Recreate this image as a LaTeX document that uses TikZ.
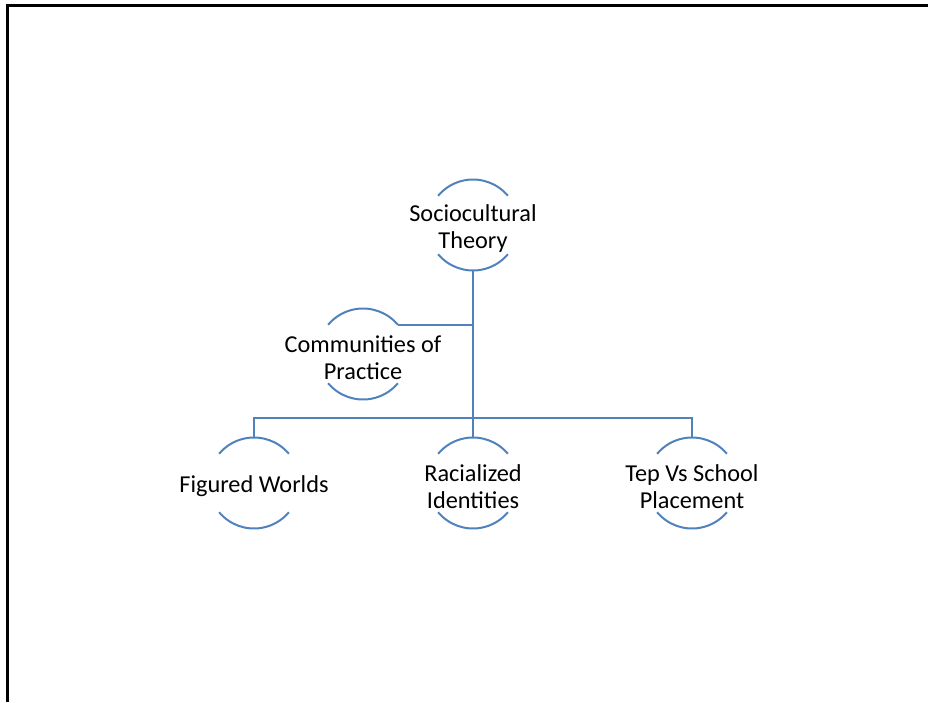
\documentclass[tikz,border=0pt]{standalone}
\usepackage{fontspec}
\setmainfont{Carlito}
\usepackage{tikz}
\usetikzlibrary{positioning}
\definecolor{linkblue}{RGB}{79,129,189}

\begin{document}
\begin{tikzpicture}[x=1pt, y=-1pt,
    topic/.style={circle, minimum size=91pt, inner sep=0pt, outer sep=0pt},
    caption/.style={align=center, inner sep=0pt, yshift=-3.5pt, font=\fontsize{24.3}{27}\selectfont},
    ring/.style={draw=linkblue, line width=2pt},
    link/.style={draw=linkblue, line width=2pt}
]
    \useasboundingbox (0,0) rectangle (928,702);
    \draw[line width=3pt] (7,702) -- (7,5) -- (928,5);

    \node[topic, label={[caption]center:Sociocultural\\Theory}] (sct) at (473,225) {};
    \node[topic, label={[caption]center:Communities of\\Practice}] (cop) at (363,354) {};
    \node[topic, label={[caption]center:Figured Worlds}] (fw) at (254,483) {};
    \node[topic, label={[caption]center:Racialized\\Identities}] (ri) at (473,483) {};
    \node[topic, label={[caption]center:Tep Vs School\\Placement}] (tep) at (692,483) {};

    \foreach \n in {sct,cop,fw,ri,tep}
        \draw[ring] (\n.40) arc[start angle=40, end angle=140, radius=45.5pt]
                    (\n.220) arc[start angle=220, end angle=320, radius=45.5pt];

    \coordinate (bus) at (473,418);
    \draw[link] (sct.south) -- (ri.north);
    \draw[link] (cop.40) -- (cop.40 -| sct.south);
    \draw[link] (fw.north) |- (bus) -| (tep.north);
\end{tikzpicture}
\end{document}
